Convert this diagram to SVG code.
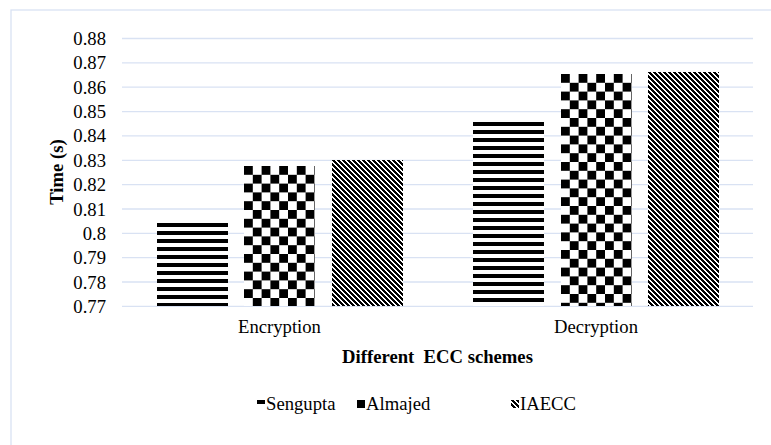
<svg xmlns="http://www.w3.org/2000/svg" width="771" height="445" viewBox="0 0 771 445">
<defs>
<style>
.grid{stroke:#D9E2F3;stroke-width:1.3;fill:none}
.tick{font-family:"Liberation Serif","Times New Roman",serif;font-size:18.67px;fill:#000}
.ttl{font-family:"Liberation Serif","Times New Roman",serif;font-size:18.67px;font-weight:bold;fill:#000}
.px{fill:#000;shape-rendering:crispEdges}
</style>
<pattern id="hstripe" patternUnits="userSpaceOnUse" width="8" height="8">
<rect width="8" height="8" fill="#fff"/>
<rect class="px" width="8" height="4"/>
</pattern>
<pattern id="checker" patternUnits="userSpaceOnUse" width="17.6" height="17.6">
<rect width="17.6" height="17.6" fill="#fff"/>
<rect class="px" width="8.8" height="8.8"/>
<rect class="px" x="8.8" y="8.8" width="8.8" height="8.8"/>
</pattern>
<pattern id="diag" patternUnits="userSpaceOnUse" width="5" height="5">
<rect width="5" height="5" fill="#fff"/>
<rect class="px" x="0" y="0" width="3" height="1"/>
<rect class="px" x="1" y="1" width="3" height="1"/>
<rect class="px" x="2" y="2" width="3" height="1"/>
<rect class="px" x="3" y="3" width="2" height="1"/>
<rect class="px" x="0" y="3" width="1" height="1"/>
<rect class="px" x="4" y="4" width="1" height="1"/>
<rect class="px" x="0" y="4" width="2" height="1"/>
</pattern>
</defs>
<rect width="771" height="445" fill="#fff"/>
<rect x="11" y="10" width="800" height="500" fill="none" stroke="#D9E2F3" stroke-width="1.3"/>

<g id="gridlines">
<line class="grid" x1="122" y1="38.5" x2="753" y2="38.5"/>
<line class="grid" x1="122" y1="62.9" x2="753" y2="62.9"/>
<line class="grid" x1="122" y1="87.2" x2="753" y2="87.2"/>
<line class="grid" x1="122" y1="111.6" x2="753" y2="111.6"/>
<line class="grid" x1="122" y1="135.9" x2="753" y2="135.9"/>
<line class="grid" x1="122" y1="160.3" x2="753" y2="160.3"/>
<line class="grid" x1="122" y1="184.6" x2="753" y2="184.6"/>
<line class="grid" x1="122" y1="209" x2="753" y2="209"/>
<line class="grid" x1="122" y1="233.3" x2="753" y2="233.3"/>
<line class="grid" x1="122" y1="257.7" x2="753" y2="257.7"/>
<line class="grid" x1="122" y1="282" x2="753" y2="282"/>
<line class="grid" x1="122" y1="306.4" x2="753" y2="306.4"/>
</g>

<g id="y-axis-labels" text-anchor="end">
<text class="tick" x="106" y="45">0.88</text>
<text class="tick" x="106" y="69.4">0.87</text>
<text class="tick" x="106" y="93.7">0.86</text>
<text class="tick" x="106" y="118.1">0.85</text>
<text class="tick" x="106" y="142.4">0.84</text>
<text class="tick" x="106" y="166.8">0.83</text>
<text class="tick" x="106" y="191.1">0.82</text>
<text class="tick" x="106" y="215.5">0.81</text>
<text class="tick" x="106" y="239.8">0.8</text>
<text class="tick" x="106" y="264.2">0.79</text>
<text class="tick" x="106" y="288.5">0.78</text>
<text class="tick" x="106" y="312.9">0.77</text>
</g>

<g id="bars">
<g id="enc-sengupta" transform="translate(157,223)"><rect width="71" height="83" fill="url(#hstripe)"/></g>
<g id="enc-almajed" transform="translate(244,166)"><rect width="71" height="140" fill="url(#checker)"/></g>
<g id="enc-iaecc" transform="translate(332,160)"><rect width="71" height="146" fill="url(#diag)"/></g>
<g id="dec-sengupta" transform="translate(473,122)"><rect width="71" height="184" fill="url(#hstripe)"/></g>
<g id="dec-almajed" transform="translate(561,74)"><rect width="71" height="232" fill="url(#checker)"/></g>
<g id="dec-iaecc" transform="translate(648,72)"><rect width="71" height="234" fill="url(#diag)"/></g>
</g>

<g id="x-axis-labels" text-anchor="middle">
<text class="tick" x="279.5" y="333">Encryption</text>
<text class="tick" x="596" y="333">Decryption</text>
</g>

<text id="x-title" class="ttl" x="437.5" y="363" text-anchor="middle" xml:space="preserve">Different  ECC schemes</text>
<text id="y-title" class="ttl" transform="translate(63,172) rotate(-90)" text-anchor="middle">Time (s)</text>

<g id="legend">
<g id="legend-sengupta">
<g transform="translate(257,400)"><rect width="8" height="8" fill="url(#hstripe)"/></g>
<text class="tick" x="266" y="410">Sengupta</text>
</g>
<g id="legend-almajed">
<g transform="translate(357,400)"><rect width="8" height="8" fill="url(#checker)"/></g>
<text class="tick" x="366" y="410">Almajed</text>
</g>
<g id="legend-iaecc">
<g transform="translate(511,400)"><rect width="8" height="8" fill="url(#diag)"/></g>
<text class="tick" x="520" y="410">IAECC</text>
</g>
</g>
</svg>
